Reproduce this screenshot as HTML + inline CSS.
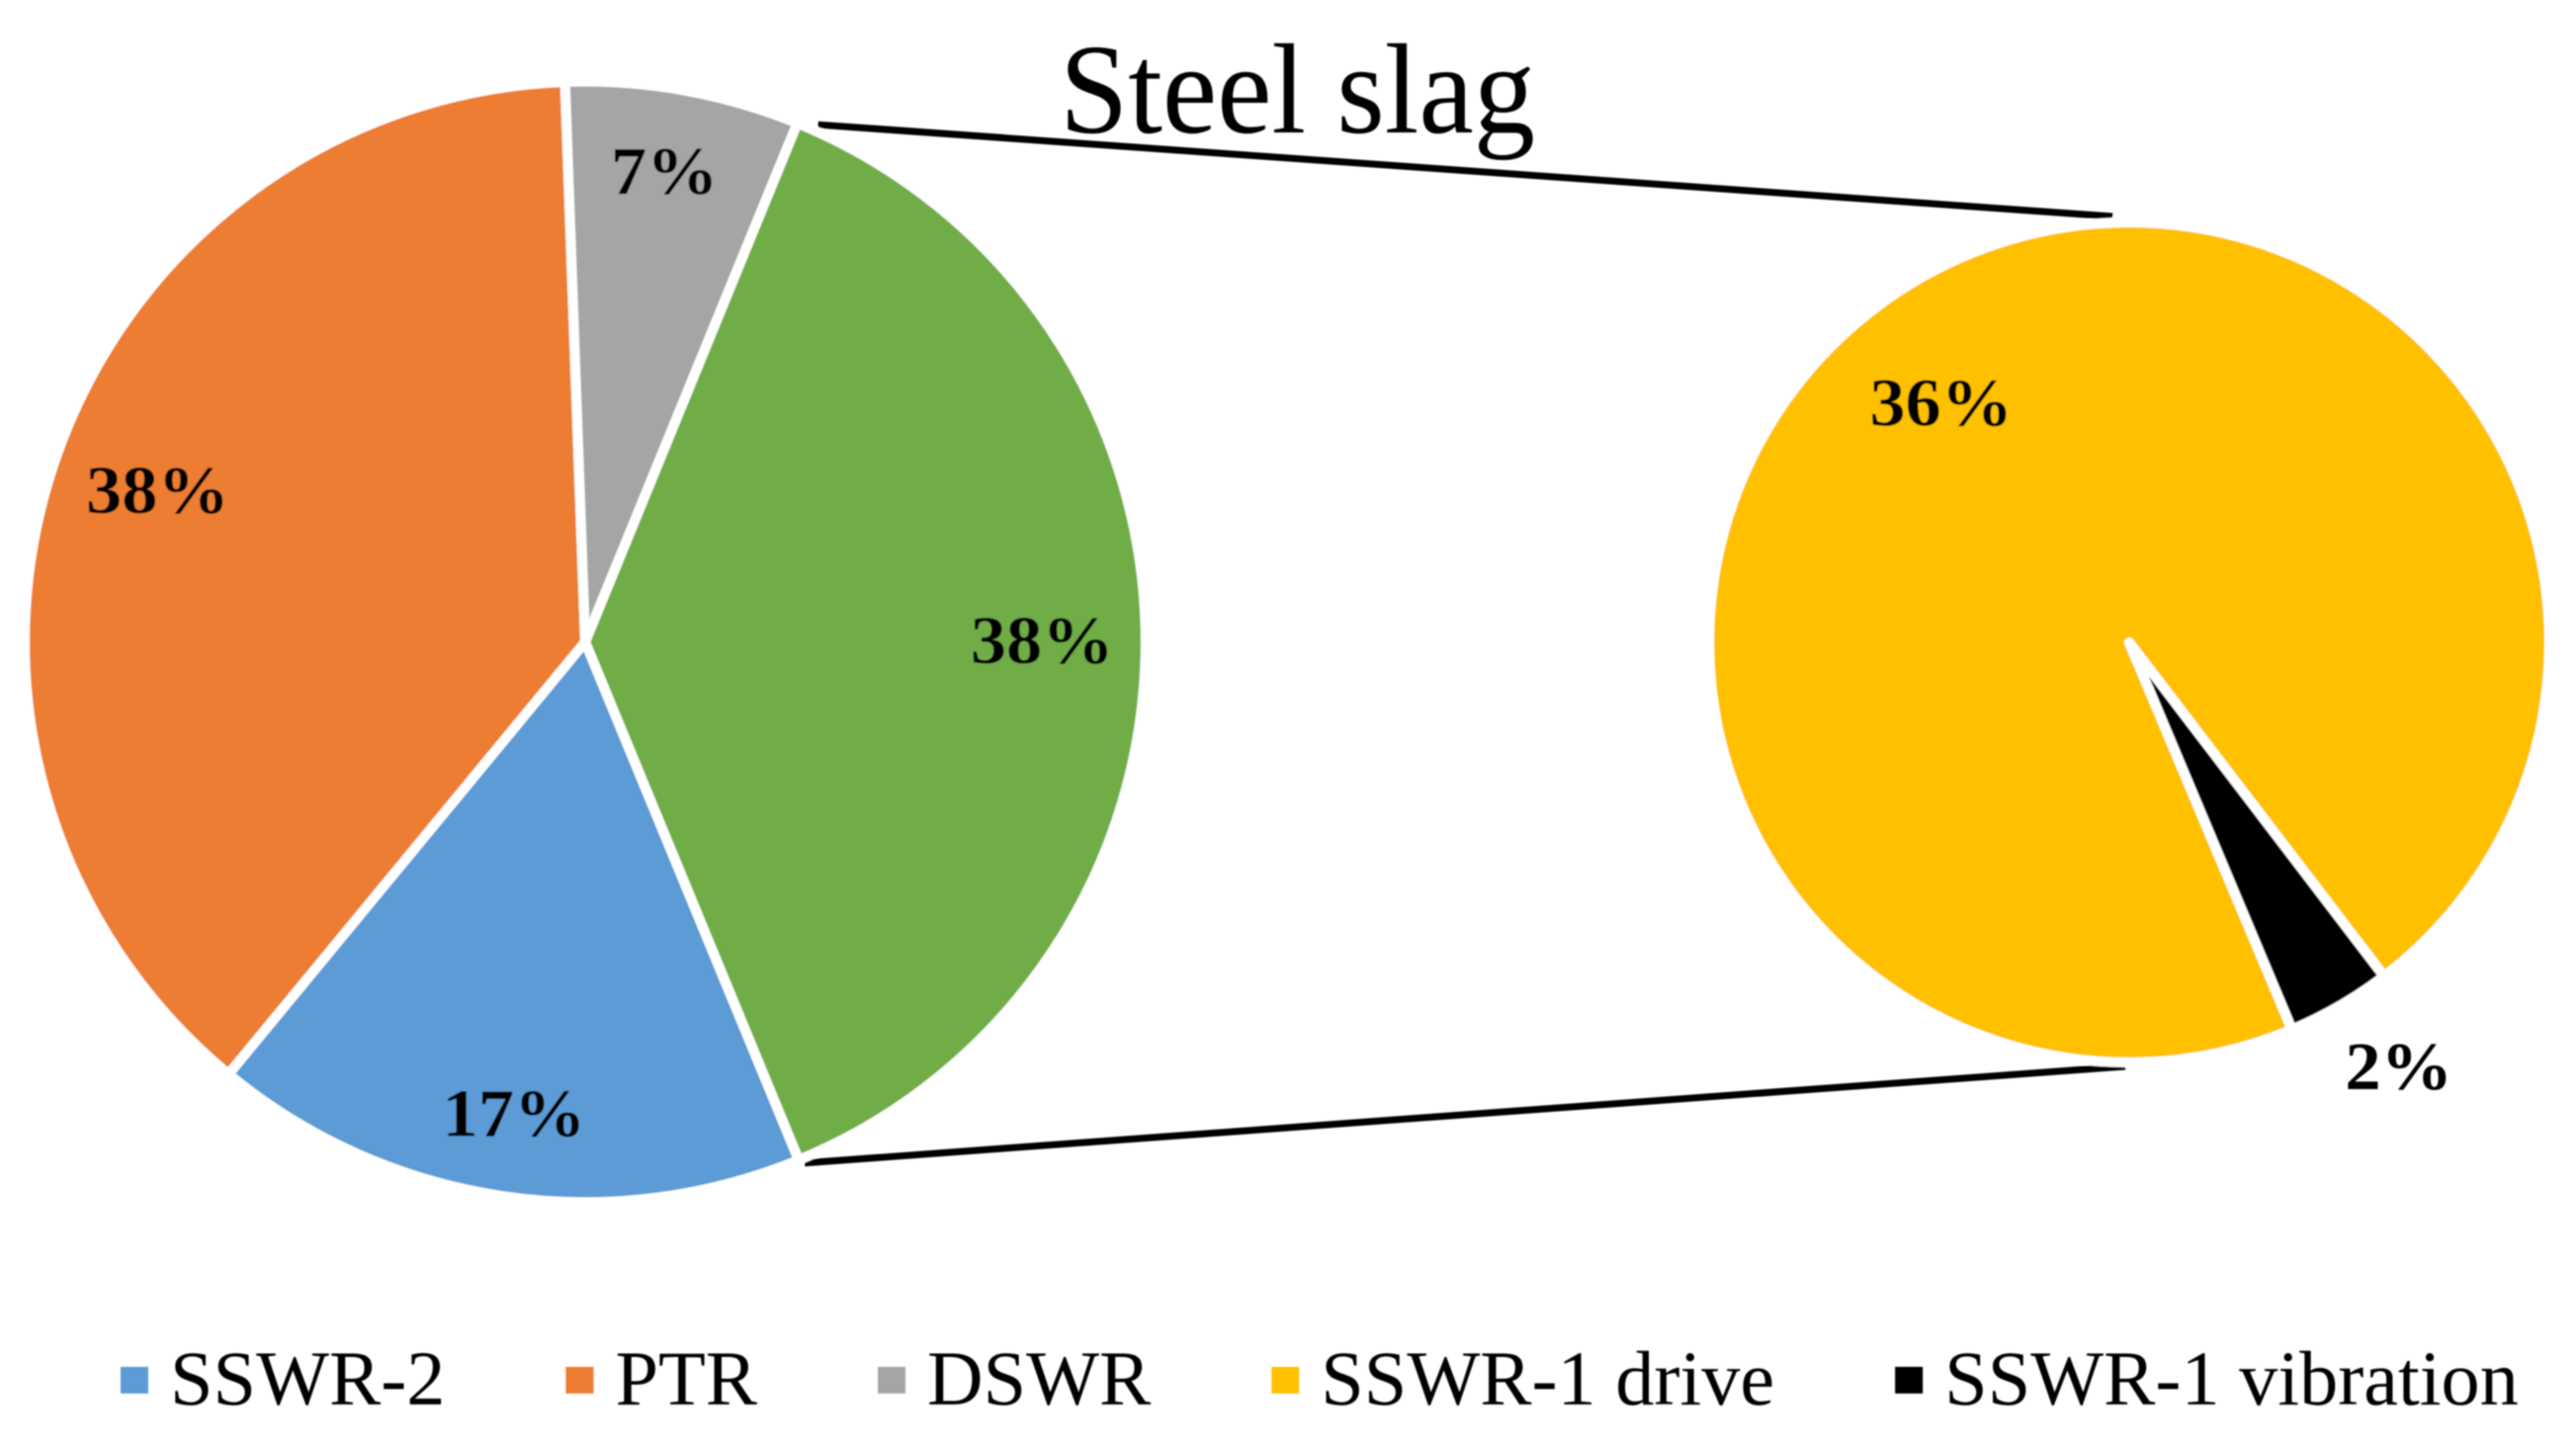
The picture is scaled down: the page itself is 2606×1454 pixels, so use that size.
<!DOCTYPE html>
<html lang="en">
<head>
<meta charset="utf-8">
<title>Steel slag</title>
<style>
html,body{margin:0;padding:0;background:#fff;}
svg{display:block;font-family:"Liberation Serif",serif;}
</style>
</head>
<body>
<svg id="chart" xmlns="http://www.w3.org/2000/svg" width="2606" height="1454" viewBox="0 0 2606 1454">
  <defs>
    <filter id="soft" x="-2%" y="-2%" width="104%" height="104%"><feGaussianBlur stdDeviation="0.9"/></filter>
  </defs>
  <g id="plot" filter="url(#soft)">
    <g id="connectors"></g>
    <g id="main-pie"></g>
    <g id="breakout-pie"></g>
    <g id="labels"></g>
    <text x="1072" y="134" font-size="130" textLength="481" lengthAdjust="spacingAndGlyphs" fill="#000">Steel slag</text>
    <g id="legend"></g>
  </g>
</svg>
<script>
// Data
const mainCategories = ['SSWR-2', 'PTR', 'DSWR'];
const mainValues = [17.2, 38.45, 6.75];
const breakoutCategories = ['SSWR-1 drive', 'SSWR-1 vibration'];
const breakoutValues = [36.08, 1.52];

// Styling and layout
const mainColors = ['#5B9BD5', '#ED7D31', '#A5A5A5'];
const breakoutColors = ['#FFC000', '#000000'];
const groupColor = '#70AD47';
const mainPie = { cx: 592, cy: 649.5, r: 567, start: 157.6, stroke: 10 };
const breakoutPie = { cx: 2154, cy: 650, r: 425, start: 157.2, stroke: 10 };
const mainLabelPlacement = [[0.85, 0.4], [0.815, 0.8], [0.853, -0.9], [0.81, -0.25]];
const breakoutLabelPlacement = [[0.7315, -8.35], [1.19, -2.15]];

const NS = 'http://www.w3.org/2000/svg';
const sum = a => a.reduce((p, c) => p + c, 0);

function polar(pie, deg, radius) {
  const t = deg * Math.PI / 180;
  return [pie.cx + radius * Math.sin(t), pie.cy - radius * Math.cos(t)];
}

function wedgePath(pie, a0, a1) {
  const p0 = polar(pie, a0, pie.r);
  const p1 = polar(pie, a1, pie.r);
  const large = a1 - a0 > 180 ? 1 : 0;
  return 'M' + pie.cx + ' ' + pie.cy + 'L' + p0[0] + ' ' + p0[1] +
    'A' + pie.r + ' ' + pie.r + ' 0 ' + large + ' 1 ' + p1[0] + ' ' + p1[1] + 'Z';
}

function drawPie(pie, values, colors, names, placement, host) {
  const total = sum(values);
  const labelHost = document.getElementById('labels');
  const bounds = [];
  let a = pie.start;
  values.forEach(function (v, i) {
    const sweep = v / total * 360;
    const slice = document.createElementNS(NS, 'path');
    slice.setAttribute('d', wedgePath(pie, a, a + sweep));
    slice.setAttribute('fill', colors[i]);
    slice.setAttribute('stroke', '#fff');
    slice.setAttribute('stroke-width', pie.stroke);
    slice.setAttribute('stroke-linejoin', 'round');
    
    
    host.appendChild(slice);

    const pos = polar(pie, a + sweep / 2 + placement[i][1], pie.r * placement[i][0]);
    const label = document.createElementNS(NS, 'text');
    label.setAttribute('transform', 'translate(' + (pos[0] + 3) + ' ' + (pos[1] + 24) + ') scale(1.05 1)');
    label.setAttribute('text-anchor', 'middle');
    label.setAttribute('font-size', '69');
    label.setAttribute('font-weight', 'bold');
    label.setAttribute('fill', '#000');
    label.textContent = Math.round(v) + '%';
    
    
    labelHost.appendChild(label);

    bounds.push([a, a + sweep]);
    a += sweep;
  });
  return bounds;
}

const groupValue = sum(breakoutValues);
const mainBounds = drawPie(
  mainPie,
  mainValues.concat([groupValue]),
  mainColors.concat([groupColor]),
  mainCategories.map(s => s.toLowerCase()).concat(['other-group']),
  mainLabelPlacement,
  document.getElementById('main-pie')
);
drawPie(
  breakoutPie,
  breakoutValues,
  breakoutColors,
  breakoutCategories.map(s => s.toLowerCase().replace(/ /g, '-')),
  breakoutLabelPlacement,
  document.getElementById('breakout-pie')
);

// Connector lines run from the edges of the group slice to the breakout pie
const groupBound = mainBounds[mainBounds.length - 1];
const connectorEnds = [
  { from: polar(mainPie, groupBound[0], mainPie.r), dx: 21, dy: 1.5, to: polar(breakoutPie, 0, breakoutPie.r), tx: -17, ty: -6, name: 'connector-top' },
  { from: polar(mainPie, groupBound[1], mainPie.r), dx: 6, dy: 3, to: polar(breakoutPie, 180, breakoutPie.r), tx: -4, ty: 4, name: 'connector-bottom' }
];
connectorEnds.forEach(function (c) {
  const line = document.createElementNS(NS, 'line');
  line.setAttribute('x1', c.from[0] + c.dx);
  line.setAttribute('y1', c.from[1] + c.dy);
  line.setAttribute('x2', c.to[0] + c.tx);
  line.setAttribute('y2', c.to[1] + c.ty);
  line.setAttribute('stroke', '#000');
  line.setAttribute('stroke-width', '7');
  
  
  document.getElementById('connectors').appendChild(line);
});

// Legend flows left to right with a constant gap
const legendNames = mainCategories.concat(breakoutCategories);
const legendColors = mainColors.concat(breakoutColors);
const legendHost = document.getElementById('legend');
let legendX = 122;
legendNames.forEach(function (name, i) {
  const entry = document.createElementNS(NS, 'g');
  
  
  legendHost.appendChild(entry);

  const swatch = document.createElementNS(NS, 'rect');
  swatch.setAttribute('x', legendX);
  swatch.setAttribute('y', 1383);
  swatch.setAttribute('width', 28);
  swatch.setAttribute('height', 27);
  swatch.setAttribute('fill', legendColors[i]);
  
  
  entry.appendChild(swatch);

  const label = document.createElementNS(NS, 'text');
  label.setAttribute('x', legendX + 50);
  label.setAttribute('y', 1421);
  label.setAttribute('font-size', '78.3');
  label.setAttribute('fill', '#000');
  label.textContent = name;
  
  
  entry.appendChild(label);

  legendX += 50 + label.getComputedTextLength() + 122;
});
</script>
</body>
</html>
